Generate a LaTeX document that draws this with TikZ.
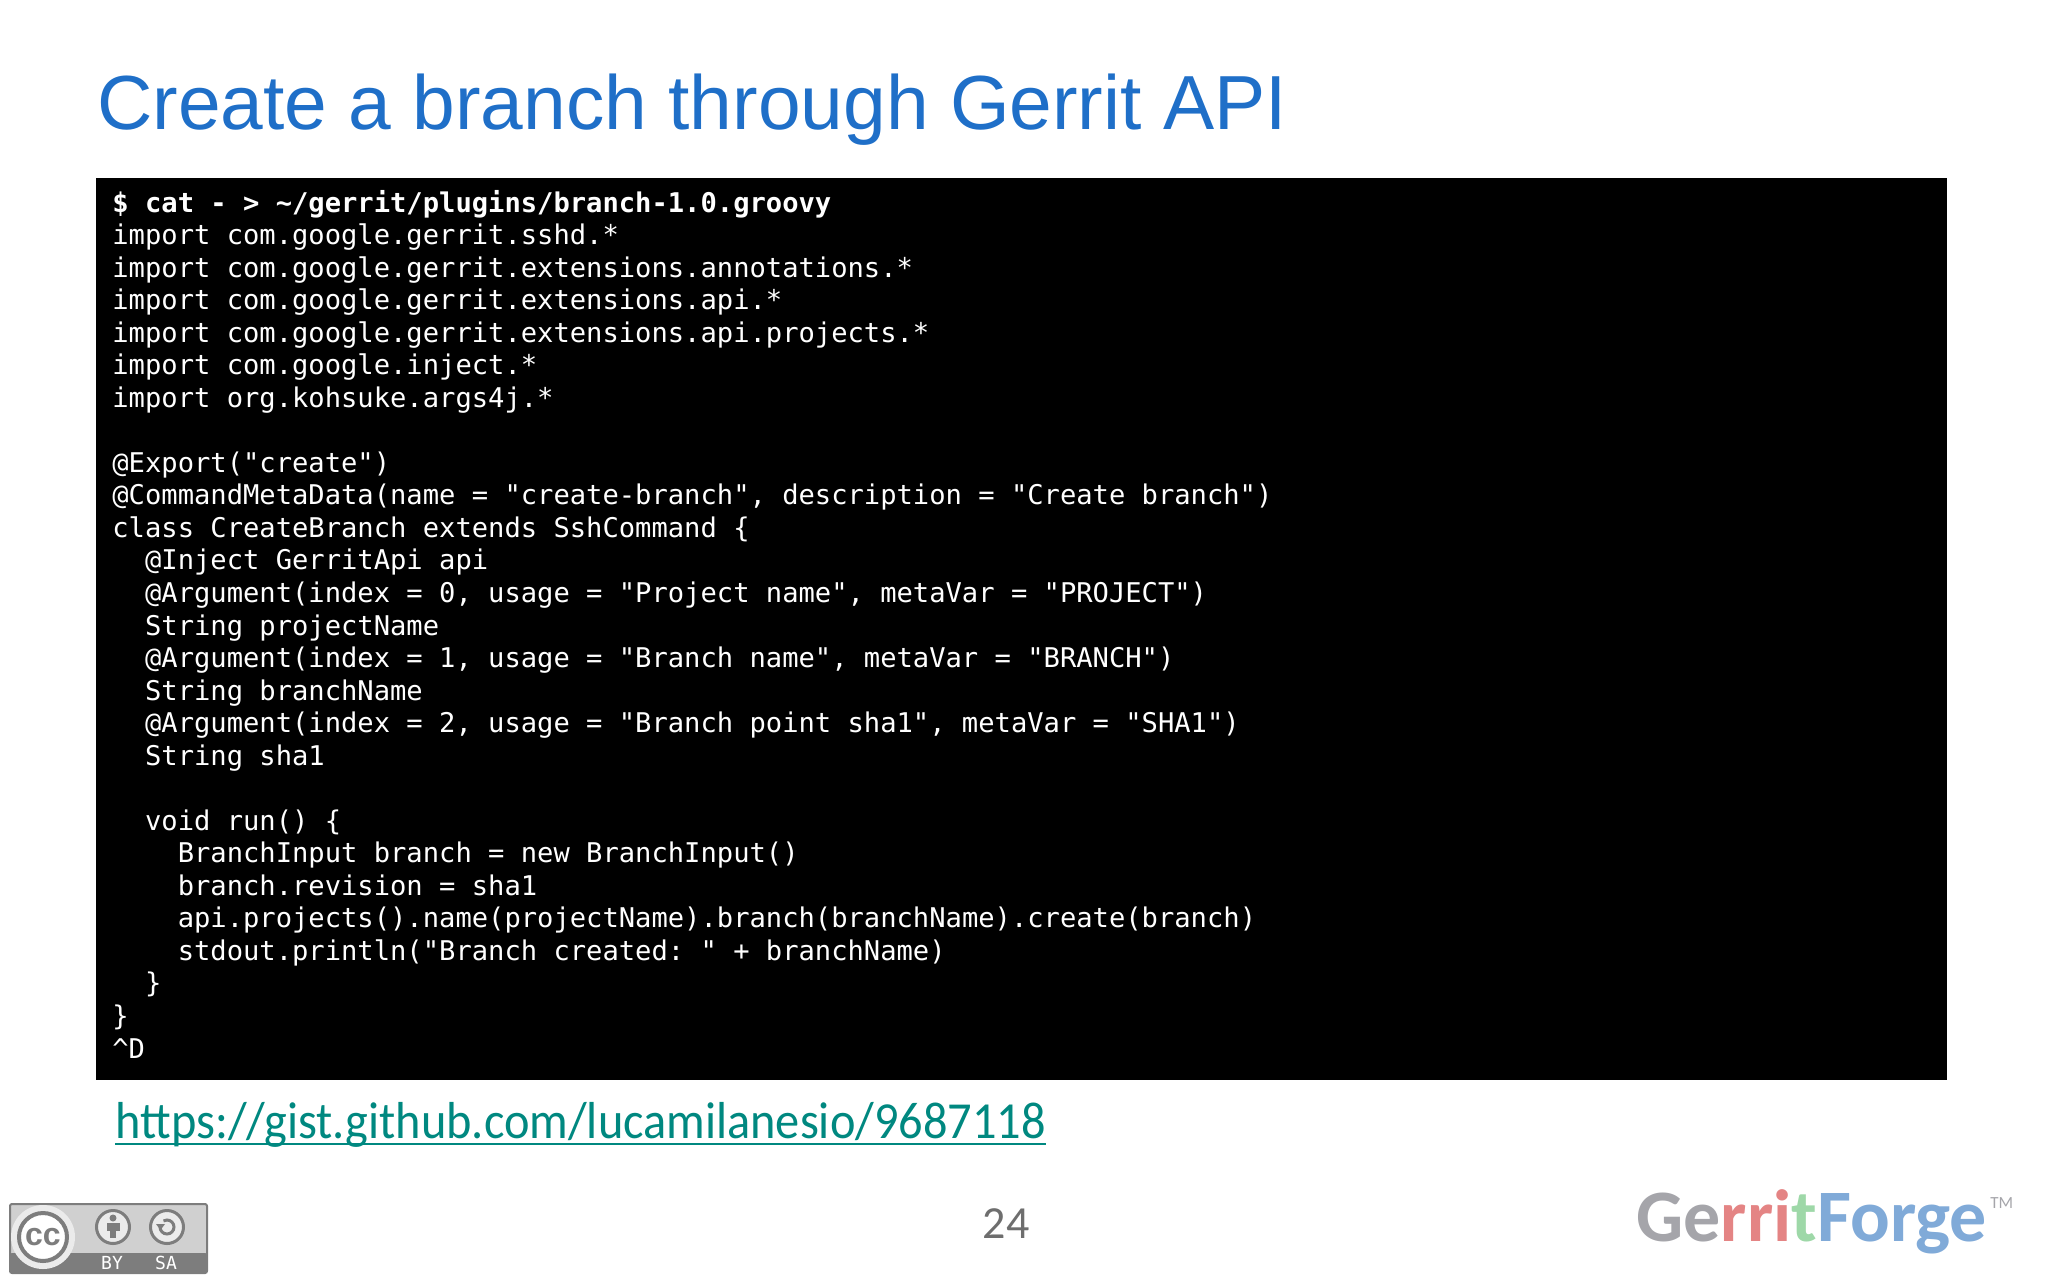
\documentclass[tikz,border=0pt]{standalone}
\usepackage{fontspec}
\setmainfont{Liberation Sans}
\setmonofont{DejaVu Sans Mono}
\newfontfamily\calibri{Carlito}
\newfontfamily\calibrinarrow[FakeStretch=0.93]{Carlito}
\usetikzlibrary{positioning}
\usetikzlibrary{matrix}
\definecolor{titleblue}{RGB}{31, 111, 200}
\definecolor{linkteal}{RGB}{0, 136, 128}
\definecolor{pagegrey}{RGB}{110, 110, 110}
\definecolor{badgegrey}{RGB}{125, 125, 125}
\definecolor{badgelight}{RGB}{208, 208, 208}
\definecolor{logogrey}{RGB}{165, 165, 170}
\definecolor{logored}{RGB}{228, 132, 132}
\definecolor{logogreen}{RGB}{158, 216, 168}
\definecolor{logoblue}{RGB}{128, 170, 216}
\newcommand{\ind}[1]{\phantom{#1}}
\tikzset{
  x=0.5pt, y=-0.5pt,
  every matrix/.style={
    inner sep=0, row sep=0,
    matrix of nodes, nodes in empty cells,
    nodes={anchor=base west, inner sep=0, text=white, text height=11.3pt, text depth=4.97pt,
      font=\fontsize{13.57}{16}\selectfont\ttfamily\frenchspacing},
    ampersand replacement=\&
  },
  badgering/.style={circle, draw=badgegrey, line width=1.5pt, fill=black!8, minimum size=16.5pt, inner sep=0},
  badgetext/.style={inner sep=0, text=white, font=\fontsize{9}{10}\selectfont\ttfamily}
}
\begin{document}
\begin{tikzpicture}
\useasboundingbox (0,0) rectangle (2048,1279);

\node (title) [anchor=base west, inner sep=0, text=titleblue, font=\fontsize{38.35}{44}\selectfont] at (97,129) {Create a branch through Gerrit API};

\node (terminal) [anchor=north west, inner sep=0, fill=black, minimum width=925.5pt, minimum height=451pt] at (96,178) {};

\matrix (code) [anchor=north west, at={(112,189)}] {
|[font=\fontsize{13.57}{16}\selectfont\ttfamily\bfseries]|\$ cat - > \textasciitilde/gerrit/plugins/branch-1.0.groovy \\
import com.google.gerrit.sshd.* \\
import com.google.gerrit.extensions.annotations.* \\
import com.google.gerrit.extensions.api.* \\
import com.google.gerrit.extensions.api.projects.* \\
import com.google.inject.* \\
import org.kohsuke.args4j.* \\
 \\
@Export("create") \\
@CommandMetaData(name = "create-branch", description = "Create branch") \\
class CreateBranch extends SshCommand \{ \\
\ind{xx}@Inject GerritApi api \\
\ind{xx}@Argument(index = 0, usage = "Project name", metaVar = "PROJECT") \\
\ind{xx}String projectName \\
\ind{xx}@Argument(index = 1, usage = "Branch name", metaVar = "BRANCH") \\
\ind{xx}String branchName \\
\ind{xx}@Argument(index = 2, usage = "Branch point sha1", metaVar = "SHA1") \\
\ind{xx}String sha1 \\
 \\
\ind{xx}void run() \{ \\
\ind{xxxx}BranchInput branch = new BranchInput() \\
\ind{xxxx}branch.revision = sha1 \\
\ind{xxxx}api.projects().name(projectName).branch(branchName).create(branch) \\
\ind{xxxx}stdout.println("Branch created: " + branchName) \\
\ind{xx}\} \\
\} \\
\textasciicircum D \\
};

\node (link) [anchor=base west, inner sep=0, text=linkteal, font=\calibrinarrow\fontsize{26}{30}\selectfont] at (115,1138) {https://gist.github.com/lucamilanesio/9687118};
\draw [linkteal, line width=1pt] (link.base west) ++(0,6) -- (link.base east |- 0,1144);

\node (pagenum) [inner sep=0, text=pagegrey, font=\calibri\fontsize{23}{26}\selectfont] at (1006,1224) {24};

\node (logo) [anchor=base west, inner sep=0, font=\calibri\bfseries\fontsize{37}{42}\selectfont] at (1636,1241)
  {\textcolor{logogrey}{Ge}\textcolor{logored}{rri}\textcolor{logogreen}{t}\textcolor{logoblue}{Forge}};
\node (trademark) [anchor=base west, inner sep=0, text=logogrey, font=\calibri\fontsize{8.5}{10}\selectfont] at (1990,1208) {TM};

% licence badge
\fill [badgelight, draw=badgegrey, line width=1pt, rounded corners=1pt] (10,1204) rectangle (207,1273);
\fill [badgegrey, rounded corners=1pt] (10,1253) rectangle (207,1273);
\fill [black!8] (43,1237) circle [radius=32];
\node (ccring) [badgering, fill=white, minimum size=24pt, line width=2pt, font=\fontsize{16}{16}\selectfont\bfseries, text=badgegrey] at (43,1237) {cc};
\node (byring) [badgering] at (113,1227) {};
\node (saring) [badgering] at (167,1227) {};
\fill [badgegrey] (113,1218) circle [radius=3.5];
\fill [badgegrey] (106.5,1223) rectangle (119.5,1231);
\fill [badgegrey] (110,1231) rectangle (116,1238);
\draw [badgegrey, line width=1.5pt] (160,1227) arc [start angle=180, end angle=-120, radius=7];
\fill [badgegrey] (156,1224) -- (165,1224) -- (160.5,1230) -- cycle;
\node (bylabel) [badgetext] at (112,1263) {BY};
\node (salabel) [badgetext] at (166,1263) {SA};
\end{tikzpicture}
\end{document}
